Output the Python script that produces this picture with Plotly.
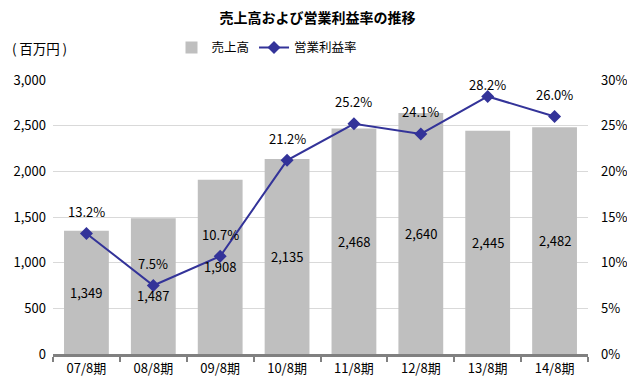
import plotly.graph_objects as go

categories = ["07/8期", "08/8期", "09/8期", "10/8期", "11/8期", "12/8期", "13/8期", "14/8期"]
sales = [1349, 1487, 1908, 2135, 2468, 2640, 2445, 2482]
margin_pct = [13.2, 7.5, 10.7, 21.2, 25.2, 24.1, 28.2, 26.0]
left_ticks = [0, 500, 1000, 1500, 2000, 2500, 3000]
right_ticks = [0, 5, 10, 15, 20, 25, 30]

FONT = "Noto Sans CJK JP, Arial, sans-serif"

# label placement tweaks (style, not data)
bar_label_shift = {1: -9}
pct_label_shift = {6: 12}

fig = go.Figure()
fig.add_trace(go.Bar(
    x=categories, y=sales, name="売上高",
    marker=dict(color="#bfbfbf", line=dict(width=0)),
    width=0.67, hoverinfo="x+y",
))
fig.add_trace(go.Scatter(
    x=categories, y=margin_pct, name="営業利益率", yaxis="y2",
    mode="lines+markers",
    line=dict(color="#333399", width=2),
    marker=dict(symbol="diamond", size=10, color="#333399"),
))

annotations = []
for i, (c, v) in enumerate(zip(categories, sales)):
    annotations.append(dict(x=c, y=v / 2, xref="x", yref="y", text=f"{v:,}",
                            showarrow=False, yshift=bar_label_shift.get(i, 0),
                            font=dict(size=13, color="#000000", family=FONT)))
for i, (c, v) in enumerate(zip(categories, margin_pct)):
    annotations.append(dict(x=c, y=v, xref="x", yref="y2", text=f"{v:.1f}%",
                            showarrow=False, yshift=pct_label_shift.get(i, 22),
                            font=dict(size=13, color="#000000", family=FONT)))
annotations.append(dict(text="(\u2009百万円\u2009)", x=-0.080, y=1.117, xref="paper", yref="paper",
                        xanchor="left", yanchor="middle", showarrow=False,
                        font=dict(size=13.5, family=FONT, color="#000000")))

fig.update_layout(
    width=619, height=371,
    margin=dict(l=45, r=39, t=72, b=25, autoexpand=False),
    paper_bgcolor="white", plot_bgcolor="white",
    font=dict(family=FONT, size=13, color="#000000"),
    title=dict(text="<b>売上高および営業利益率の推移</b>", x=0.5, xanchor="center",
               y=1 - 10 / 371, yanchor="middle", font=dict(size=14, family=FONT)),
    showlegend=True,
    legend=dict(orientation="h", x=0.40, xanchor="center", y=1.117, yanchor="middle",
                font=dict(size=12.5, family=FONT), bgcolor="rgba(0,0,0,0)"),
    xaxis=dict(showline=True, linecolor="#808080", linewidth=3, ticks="outside",
               tickson="boundaries", tickcolor="#808080", ticklen=5, tickwidth=2,
               tickfont=dict(size=13), showgrid=False, automargin=False),
    yaxis=dict(range=[0, 3000], tickvals=left_ticks, ticktext=[f"{v:,}" for v in left_ticks],
               showgrid=True, gridcolor="#d9d9d9", gridwidth=1, zeroline=False,
               tickfont=dict(size=13), showline=False, ticklabelstandoff=6, automargin=False),
    yaxis2=dict(range=[0, 30], tickvals=right_ticks, ticktext=[f"{v}%" for v in right_ticks],
                overlaying="y", side="right", showgrid=False, zeroline=False,
                tickfont=dict(size=13), ticklabelstandoff=12, automargin=False),
    annotations=annotations,
)

fig.write_html("out.html")
